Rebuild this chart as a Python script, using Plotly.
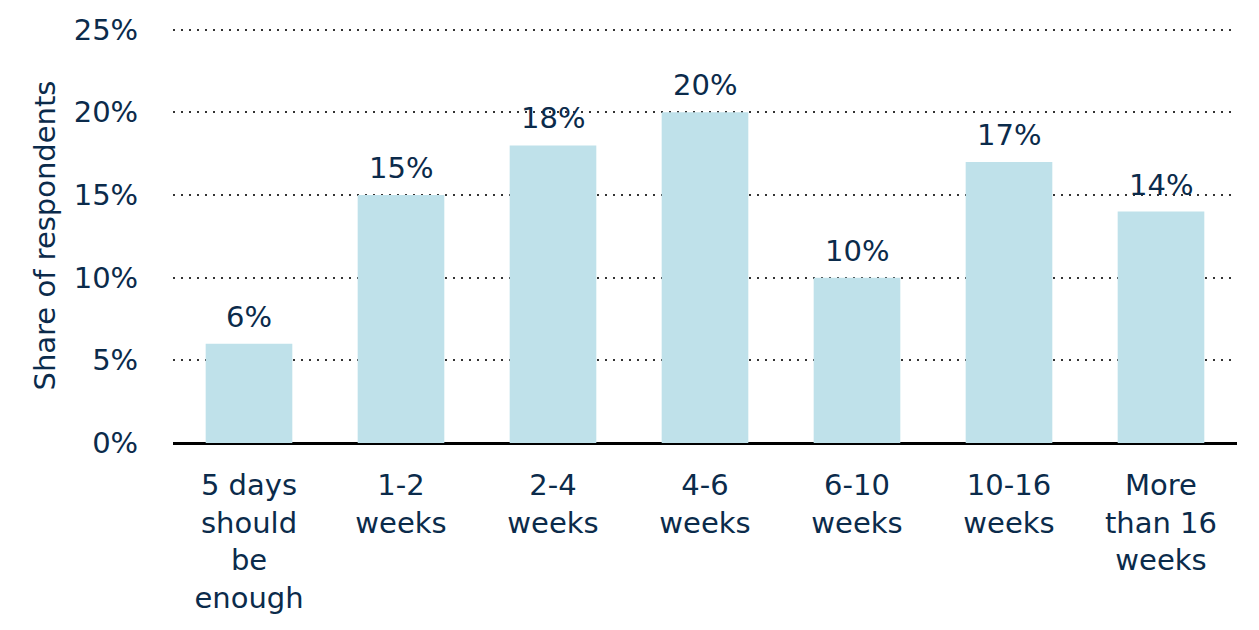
import plotly.graph_objects as go

categories = ["5 days<br>should<br>be<br>enough", "1-2<br>weeks", "2-4<br>weeks", "4-6<br>weeks",
              "6-10<br>weeks", "10-16<br>weeks", "More<br>than 16<br>weeks"]
values = [6, 15, 18, 20, 10, 17, 14]
y_ticks = [0, 5, 10, 15, 20, 25]
y_tick_labels = ["0%", "5%", "10%", "15%", "20%", "25%"]

TXT = "#0B2B4B"
FONT = "DejaVu Sans"
FS = 29

fig = go.Figure(go.Bar(
    x=categories, y=values,
    marker=dict(color="#BFE1EA", line=dict(width=0)),
    cliponaxis=False,
))

for c, v in zip(categories, values):
    fig.add_annotation(x=c, y=v, text=f"{v}%", showarrow=False,
                       xanchor="center", yanchor="bottom", yshift=8,
                       font=dict(family=FONT, size=FS, color=TXT))

fig.update_layout(
    width=1259, height=630,
    margin=dict(l=165, r=30, t=20, b=195),
    paper_bgcolor="white", plot_bgcolor="white",
    bargap=0.43,
    showlegend=False,
    font=dict(family=FONT, size=FS, color=TXT),
    xaxis=dict(
        automargin=False,
        showgrid=False, showline=False, zeroline=False,
        ticks="outside", ticklen=16, tickcolor="rgba(0,0,0,0)",
        tickfont=dict(family=FONT, size=FS, color=TXT),
    ),
    yaxis=dict(
        automargin=False,
        range=[0, 25.1], tickvals=y_ticks, ticktext=y_tick_labels,
        showgrid=True, gridcolor="#333333", griddash="2px,6px", gridwidth=2,
        zeroline=True, zerolinecolor="black", zerolinewidth=3,
        showline=False,
        ticks="outside", ticklen=28, tickcolor="rgba(0,0,0,0)",
        tickfont=dict(family=FONT, size=FS, color=TXT),
        title=dict(text="Share of respondents", font=dict(family=FONT, size=FS, color=TXT), standoff=9),
    ),
)

fig.write_html("out.html")
